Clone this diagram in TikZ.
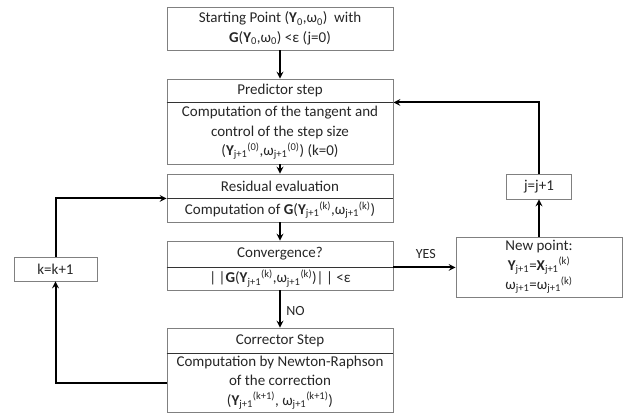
\documentclass[tikz,border=0pt]{standalone}
\usepackage{fontspec}
\setmainfont{Carlito}
\definecolor{boxgray}{gray}{0.5}
\definecolor{textgray}{gray}{0.15}
\newcommand{\bY}{\textbf{Y}}
\newcommand{\bG}{\textbf{G}}
\newcommand{\bX}{\textbf{X}}
\newcommand{\jp}{\textsubscript{j+1}}

\begin{document}
\begin{tikzpicture}[x=1pt, y=-1pt, >=stealth,
    box/.style={draw=boxgray, line width=0.9pt, minimum width=226pt, inner sep=0pt,
        align=center, text=textgray, font=\fontsize{15}{19.5}\selectfont},
    flow/.style={->, line width=2pt, black},
    sepline/.style={draw=gray!40!black, line width=1.6pt},
    lbl/.style={text=textgray, font=\fontsize{14}{16}\selectfont}]

    \useasboundingbox (0,0) rectangle (634,415);

    % Starting point
    \node[box, minimum height=43pt] (start) at (280, 28.5)
        {Starting Point (\bY\textsubscript{0},ω\textsubscript{0})\ \ with\\
         \bG(\bY\textsubscript{0},ω\textsubscript{0}) <ε (j=0)};

    % Predictor step
    \node[box, minimum height=23pt] (pred-head) at (280, 90.5) {Predictor step};
    \node[box, minimum height=62pt] (pred) at (280, 133)
        {Computation of the tangent and\\
         control of the step size\\
         (\bY\jp\textsuperscript{(0)},ω\jp\textsuperscript{(0)}) (k=0)};

    % Residual evaluation
    \node[box, minimum height=24pt] (res-head) at (280, 186) {Residual evaluation};
    \node[box, minimum height=24pt] (res) at (280, 210)
        {Computation of \bG(\bY\jp\textsuperscript{(k)},ω\jp\textsuperscript{(k)})};

    % Convergence test
    \node[box, minimum height=26pt] (conv-head) at (280, 254) {Convergence?};
    \node[box, minimum height=23pt] (conv) at (280, 278.5)
        {|\,|\bG(\bY\jp\textsuperscript{(k)},ω\jp\textsuperscript{(k)})|\,| <ε};

    % Corrector step
    \node[box, minimum height=25pt] (corr-head) at (280, 340.5) {Corrector Step};
    \node[box, minimum height=59pt] (corr) at (280, 382.5)
        {Computation by Newton-Raphson\\
         of the correction\\
         (\bY\jp\textsuperscript{(k+1)}, ω\jp\textsuperscript{(k+1)})};

    % Separators
    \foreach \n in {pred-head, res-head, conv-head, corr-head} {
        \draw[sepline] (\n.south west) -- (\n.south east);
    }

    % New point and counters
    \node[box, minimum width=166pt, minimum height=60pt] (newpt) at (539, 267)
        {New point:\\
         \bY\jp=\bX\jp\textsuperscript{(k)}\\
         ω\jp=ω\jp\textsuperscript{(k)}};
    \node[box, minimum width=65pt, minimum height=25pt] (jinc) at (539, 186.5) {j=j+1};
    \node[box, minimum width=83pt, minimum height=24pt] (kinc) at (55.5, 269) {k=k+1};

    % Main flow
    \draw[flow] (start) -- (pred-head);
    \draw[flow] (pred) -- (res-head);
    \draw[flow] (res) -- (conv-head);
    \draw[flow] (conv) -- node[lbl, right, pos=0.55, xshift=2pt] {NO} (corr-head);
    \draw[flow] (conv-head.south east) -- node[lbl, above, pos=0.52, yshift=5pt] {YES}
        (conv-head.south east -| newpt.west);

    % Loops
    \draw[flow] (newpt) -- (jinc);
    \draw[flow] (jinc.north) |- (pred-head.south east);
    \draw[flow] (corr.west) -| (kinc.south);
    \draw[flow] (kinc.north) |- (res-head.south west);

\end{tikzpicture}
\end{document}
